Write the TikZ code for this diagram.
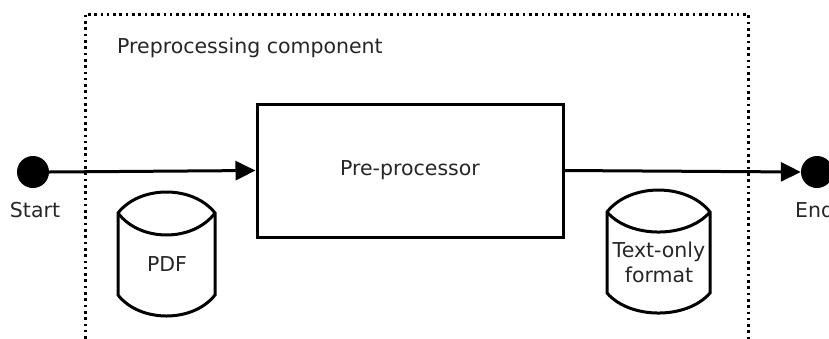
\documentclass[tikz,border=0pt]{standalone}
\usepackage{fontspec}
\setmainfont{DejaVu Sans}
\usetikzlibrary{arrows.meta}
\begin{document}
\begin{tikzpicture}[x=1pt,y=-1pt,
 txt/.style={font=\fontsize{20.5}{25}\selectfont, text=black!85, inner sep=0pt},
 bound/.style={line width=3pt, dash pattern=on 2.6pt off 3.7pt},
 proc/.style={draw, line width=3pt, minimum width=306pt, minimum height=133pt},
 term/.style={circle, fill=black, minimum size=32pt, inner sep=0pt},
 store/.style={draw, line width=3pt},
 flow/.style={-{Triangle[length=20pt,width=19pt]}, line width=3pt}]
\useasboundingbox (0,0) rectangle (829,338);
\clip (0,0) rectangle (829,338);
\draw[bound] (85,345) -- (85,14) -- (748,14) -- (748,345);
\node[txt, anchor=west] (title) at (117,48) {Preprocessing component};
\node[proc, txt] (pp) at (410,170.5) {Pre-processor};
\node[term] (start) at (33,172) {};
\node[term] (end) at (817,172) {};
\node[txt] (startl) at (35,210) {Start};
\node[txt, anchor=west] (endl) at (795,210) {End};
\draw[flow] (start.east) -- (pp.west);
\draw[flow] (pp.east) -- (end.west);
% PDF store
\draw[store] (118,213) .. controls (140,185) and (193,185) .. (215,213) -- (215,295) .. controls (193,323) and (140,323) .. (118,295) -- cycle;
\draw[store] (118,213) .. controls (140,242.3) and (193,242.3) .. (215,213);
\node[txt] (pdf) at (167,264) {PDF};
% Text-only store
\draw[store] (607,212) .. controls (630,182.7) and (687,182.7) .. (710,212) -- (710,293) .. controls (687,319.7) and (630,319.7) .. (607,293) -- cycle;
\draw[store] (607,212) .. controls (630,238.7) and (687,238.7) .. (710,212);
\node[txt, align=center] (tof) at (659,262) {Text-only\\format};
\end{tikzpicture}
\end{document}
